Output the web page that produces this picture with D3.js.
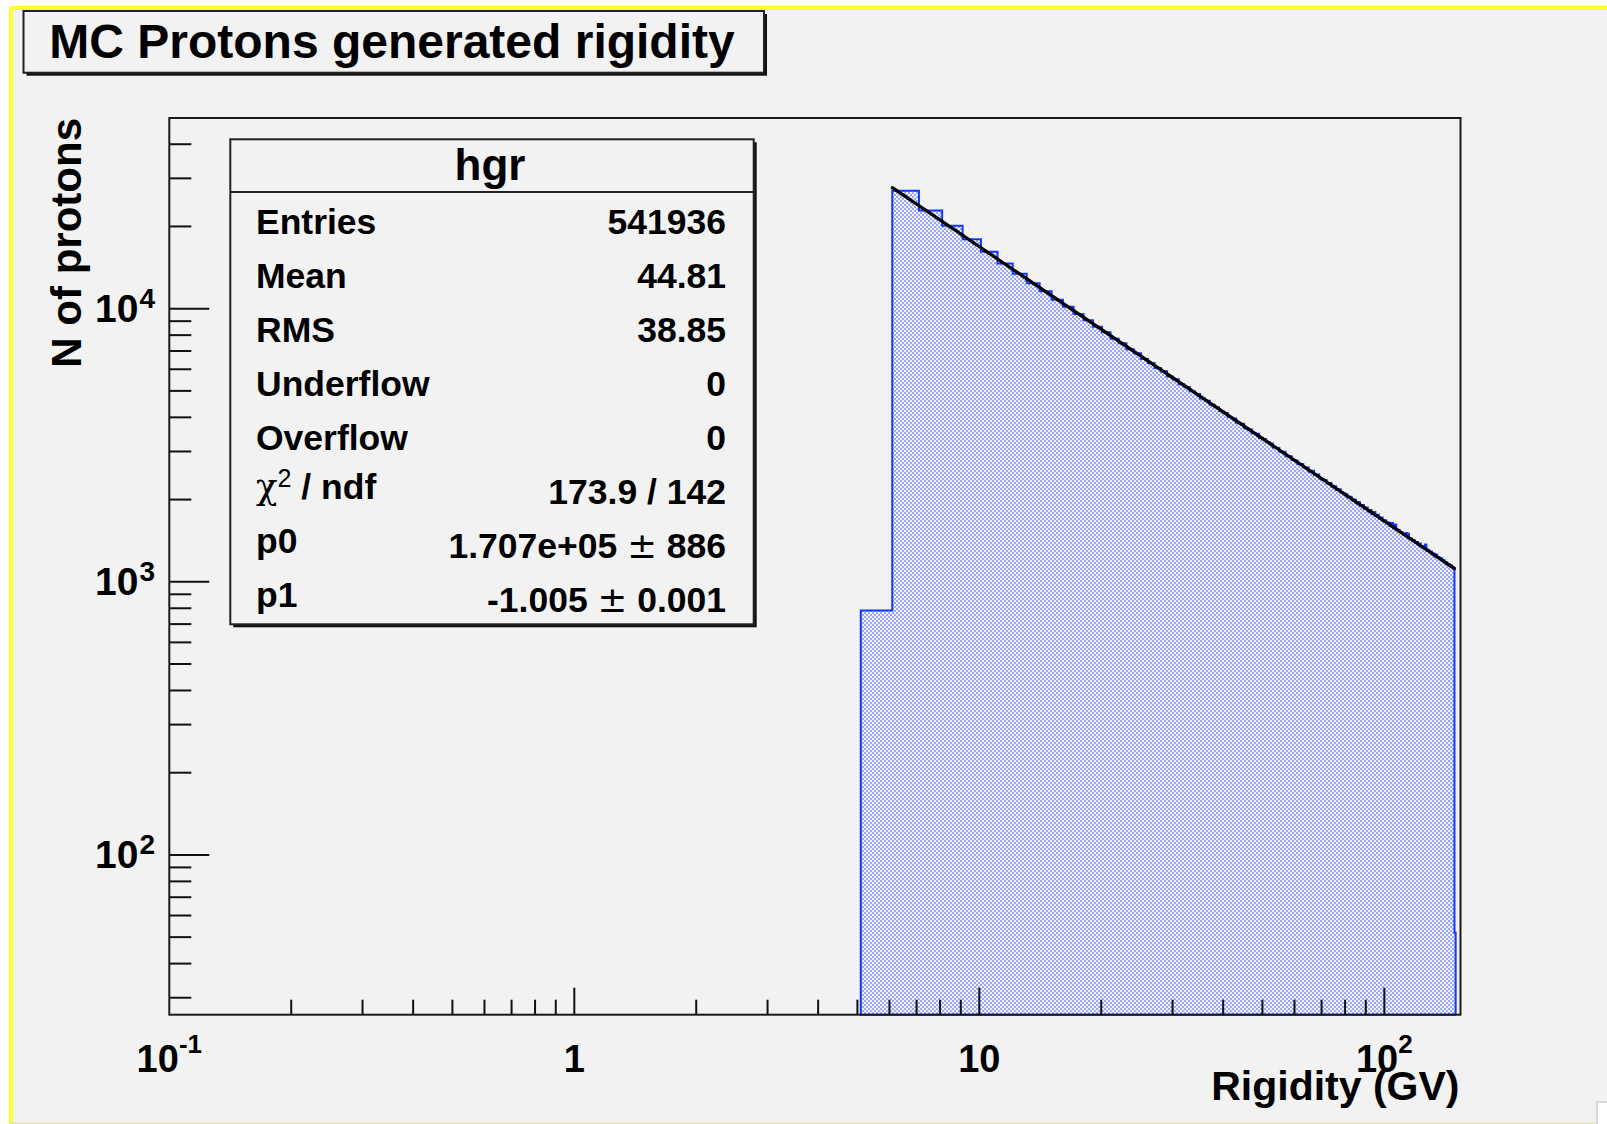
<!DOCTYPE html>
<html>
<head>
<meta charset="utf-8">
<script src="https://cdn.jsdelivr.net/npm/d3@7"></script>
<style>
  body { margin: 0; background: #fff; overflow: hidden; }
  svg text { font-family: "Liberation Sans", Arial, Helvetica, sans-serif; font-weight: bold; fill: #000; }
</style>
</head>
<body>
<div id="chart"></div>
<script>
// histogram binning (rigidity, GV): first filled bin starts at 5.097
const binStart = 5.097;
const binWidth = 0.9993;
// bin contents (bins from 5.1 GV up to 150 GV)
const counts = [
  785, 27000, 22900, 20100, 17950, 16150, 14620, 13420, 12400, 11580, 10790, 10170, 9560, 9070, 8590,
  8200, 7760, 7470, 7100, 6860, 6540, 6330, 6070, 5900, 5650, 5510, 5290, 5170, 4980, 4870, 4690, 4600, 4450, 4360, 4220,
  4150, 4010, 3960, 3820, 3790, 3650, 3620, 3500, 3480, 3360, 3330, 3250, 3210, 3100, 3090, 2990, 2990, 2880, 2880, 2790,
  2780, 2700, 2700, 2620, 2620, 2530, 2550, 2460, 2470, 2390, 2370, 2360, 2290, 2300, 2230, 2240, 2170, 2180, 2120, 2110,
  2090, 2040, 2050, 1990, 2000, 1940, 1960, 1900, 1910, 1850, 1870, 1810, 1830, 1770, 1800, 1740, 1760, 1700, 1720, 1670,
  1680, 1640, 1650, 1600, 1640, 1570, 1620, 1550, 1550, 1520, 1520, 1490, 1480, 1510, 1500, 1440, 1440, 1420, 1420, 1390,
  1400, 1370, 1380, 1350, 1350, 1340, 1370, 1300, 1310, 1290, 1290, 1270, 1270, 1240, 1260, 1230, 1230, 1210, 1220, 1190,
  1200, 1180, 1180, 1160, 1160, 1140, 1150, 1130, 1125, 52
];

// fit p0*x^p1 (values from the stats box)
const fitP0 = 1.707e5;
const fitP1 = -1.005;
const fitRange = [6.1, 149];

// axes
const xDomain = [0.1, 154.2];
const yDomain = [26, 49900];
const xMajor = [0.1, 1, 10, 100];
const xLabels = [["10", "-1"], ["1", ""], ["10", ""], ["10", "2"]];
const yMajor = [100, 1000, 10000];
const yLabels = [["10", "2"], ["10", "3"], ["10", "4"]];

const titleText = "MC Protons generated rigidity";
const xTitle = "Rigidity (GV)";
const yTitle = "N of protons";

// stats box
const statsName = "hgr";
const statLabels = ["Entries", "Mean", "RMS", "Underflow", "Overflow", "chi2", "p0", "p1"];
const statValues = ["541936", "44.81", "38.85", "0", "0", "173.9 / 142", "1.707e+05 ± 886", "-1.005 ± 0.001"];

const W = 1607, H = 1124;
const bg = "#f2f2f2";
const frame = { left: 169.3, right: 1460.5, top: 118, bottom: 1014.7 };

const svg = d3.select("#chart").append("svg")
  .attr("width", W)
  .attr("height", H);

// pattern for the histogram fill (soft blue dots)
const defs = svg.append("defs");
const pat = defs.append("pattern")
  .attr("id", "dots")
  .attr("patternUnits", "userSpaceOnUse")
  .attr("width", 4)
  .attr("height", 4);
pat.append("circle").attr("cx", 1).attr("cy", 1).attr("r", 0.8).attr("fill", "#2a48ff");
pat.append("circle").attr("cx", 3).attr("cy", 3).attr("r", 0.8).attr("fill", "#2a48ff");

//CANVAS
svg.append("rect").attr("width", W).attr("height", H).attr("fill", "#fff");
svg.append("rect").attr("x", 9).attr("y", 6).attr("width", W - 9).attr("height", H - 7).attr("fill", bg);
svg.append("rect").attr("x", 9).attr("y", 6).attr("width", W - 9).attr("height", 4).attr("fill", "#ffff33");
svg.append("rect").attr("x", 9).attr("y", 6).attr("width", 4).attr("height", H - 7).attr("fill", "#ffff33");
svg.append("rect").attr("x", 9).attr("y", H - 1.5).attr("width", W - 9).attr("height", 1.5).attr("fill", "#e3e3a8");
svg.append("rect").attr("x", 1597).attr("y", 1102).attr("width", 12).attr("height", 24)
  .attr("fill", "#fff").attr("stroke", "#d8d8d8").attr("stroke-width", 2);

//SCALES
const x = d3.scaleLog().domain(xDomain).range([frame.left, frame.right]);
const y = d3.scaleLog().domain(yDomain).range([frame.bottom, frame.top]);

//HISTOGRAM
const pts = [[binStart, yDomain[0]]];
counts.forEach((c, i) => {
  const lo = binStart + i * binWidth;
  pts.push([lo, c]);
  pts.push([lo + binWidth, c]);
});
pts.push([binStart + counts.length * binWidth, yDomain[0]]);

const line = d3.line().x(d => x(d[0])).y(d => y(d[1]));

svg.append("path")
  .attr("d", line(pts) + "Z")
  .attr("fill", "url(#dots)")
  .attr("stroke", "#1238ff")
  .attr("stroke-width", 2)
  .attr("stroke-linejoin", "miter");

//FIT
const fitPts = fitRange.map(v => [v, fitP0 * Math.pow(v, fitP1)]);
svg.append("path")
  .attr("d", line(fitPts))
  .attr("fill", "none")
  .attr("stroke", "#000")
  .attr("stroke-width", 3.2)
  .attr("stroke-linecap", "round");

//FRAME
svg.append("rect")
  .attr("x", frame.left).attr("y", frame.top)
  .attr("width", frame.right - frame.left)
  .attr("height", frame.bottom - frame.top)
  .attr("fill", "none")
  .attr("stroke", "#1a1a1a")
  .attr("stroke-width", 2);

//TICKS
function minorTicks(domain) {
  const out = [];
  for (let e = -2; e <= 5; e++) {
    for (let m = 2; m <= 9; m++) {
      const v = m * Math.pow(10, e);
      if (v > domain[0] && v < domain[1]) out.push(v);
    }
  }
  return out;
}

const ticks = svg.append("g").attr("stroke", "#111").attr("stroke-width", 2);
minorTicks(xDomain).forEach(v => {
  ticks.append("line").attr("x1", x(v)).attr("x2", x(v)).attr("y1", frame.bottom).attr("y2", frame.bottom - 15);
});
xMajor.filter(v => v > xDomain[0]).forEach(v => {
  ticks.append("line").attr("x1", x(v)).attr("x2", x(v)).attr("y1", frame.bottom).attr("y2", frame.bottom - 27);
});
minorTicks(yDomain).forEach(v => {
  ticks.append("line").attr("y1", y(v)).attr("y2", y(v)).attr("x1", frame.left).attr("x2", frame.left + 22);
});
yMajor.forEach(v => {
  ticks.append("line").attr("y1", y(v)).attr("y2", y(v)).attr("x1", frame.left).attr("x2", frame.left + 40);
});

//TICK LABELS
xMajor.forEach((v, i) => {
  const t = svg.append("text")
    .attr("x", x(v))
    .attr("y", 1071.5)
    .attr("text-anchor", "middle")
    .style("font-size", "38px");
  t.append("tspan").text(xLabels[i][0]);
  if (xLabels[i][1]) {
    t.append("tspan").attr("dy", -19).style("font-size", "26px").text(xLabels[i][1]);
  }
});

yMajor.forEach((v, i) => {
  const t = svg.append("text")
    .attr("x", 155)
    .attr("y", y(v) + 13)
    .attr("text-anchor", "end")
    .style("font-size", "39px");
  t.append("tspan").text(yLabels[i][0]);
  t.append("tspan").attr("dy", -14).attr("dx", 1).style("font-size", "28px").text(yLabels[i][1]);
});

//AXIS TITLES
svg.append("text")
  .attr("x", frame.right - 1)
  .attr("y", 1100)
  .attr("text-anchor", "end")
  .style("font-size", "41px")
  .text(xTitle);

svg.append("text")
  .attr("transform", `translate(81, ${frame.top}) rotate(-90)`)
  .attr("text-anchor", "end")
  .style("font-size", "42px")
  .text(yTitle);

//BOX HELPER (ROOT style with shadow)
function box(x0, y0, x1, y1) {
  svg.append("rect").attr("x", x0 + 3).attr("y", y0 + 3).attr("width", x1 - x0).attr("height", y1 - y0)
    .attr("fill", "#111");
  svg.append("rect").attr("x", x0).attr("y", y0).attr("width", x1 - x0).attr("height", y1 - y0)
    .attr("fill", bg).attr("stroke", "#222").attr("stroke-width", 2);
}

//STATS BOX
const sb = { left: 230.3, right: 753.7, top: 139.3, bottom: 624.3 };
box(sb.left, sb.top, sb.right, sb.bottom);
svg.append("line")
  .attr("x1", sb.left).attr("x2", sb.right)
  .attr("y1", 192).attr("y2", 192)
  .attr("stroke", "#222").attr("stroke-width", 2);
svg.append("text")
  .attr("x", (sb.left + sb.right) / 2 - 2)
  .attr("y", 180)
  .attr("text-anchor", "middle")
  .style("font-size", "44px")
  .text(statsName);

const rowStep = 53.95;
statLabels.forEach((lab, i) => {
  const base = 234 + i * rowStep;
  const lt = svg.append("text")
    .attr("x", 256)
    .attr("y", i >= 5 ? base - 5 : base)
    .style("font-size", "35.5px");
  if (lab === "chi2") {
    lt.append("tspan").style("font-weight", "normal").style("font-family", "'DejaVu Serif', serif").text("χ");
    lt.append("tspan").attr("dy", -12).style("font-size", "25px").style("font-weight", "normal").text("2");
    lt.append("tspan").attr("dy", 12).text(" / ndf");
  } else {
    lt.text(lab);
  }

  const vt = svg.append("text")
    .attr("x", 726)
    .attr("y", base)
    .attr("text-anchor", "end")
    .style("font-size", "35.5px");
  const parts = statValues[i].split("±");
  vt.append("tspan").text(parts[0]);
  if (parts.length > 1) {
    vt.append("tspan").style("font-weight", "normal").style("font-family", "'DejaVu Sans', sans-serif").text("±");
    vt.append("tspan").text(parts[1]);
  }
});

//TITLE BOX
box(23.5, 11, 764, 72.7);
svg.append("text")
  .attr("x", 392)
  .attr("y", 57.5)
  .attr("text-anchor", "middle")
  .style("font-size", "48px")
  .text(titleText);
</script>
</body>
</html>
